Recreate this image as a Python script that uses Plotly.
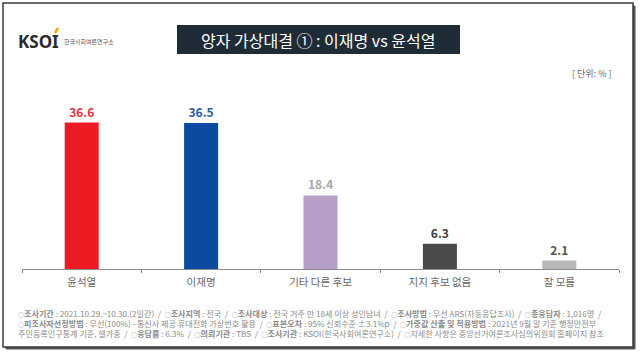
import plotly.graph_objects as go

categories = ["윤석열", "이재명", "기타 다른 후보", "지지 후보 없음", "잘 모름"]
values = [36.6, 36.5, 18.4, 6.3, 2.1]
bar_colors = ["#ED1C24", "#0B4AA0", "#B59FC8", "#4A4A4A", "#B8B8B8"]
label_colors = ["#E5323A", "#2A5AA8", "#A8A8A8", "#404040", "#555555"]
title_text = "양자 가상대결 ① : 이재명 vs 윤석열"
unit_text = "[ 단위: % ]"
BUL = "<span style='font-size:6px'>○</span>"
footnote_lines = [
    BUL + "<b>조사기간</b> : 2021.10.29.~10.30.(2일간)  /  " + BUL + "<b>조사지역</b> : 전국  /  " + BUL + "<b>조사대상</b> : 전국 거주 만 18세 이상 성인남녀  /  " + BUL + "<b>조사방법</b> : 무선 ARS(자동응답조사)  /  " + BUL + "<b>총응답자</b> : 1,016명  /",
    BUL + "<b>피조사자선정방법</b> : 무선(100%) –통신사 제공 휴대전화 가상번호 활용  /  " + BUL + "<b>표본오차</b> : 95% 신뢰수준 ±3.1%p  /  " + BUL + "<b>가중값 산출 및 적용방법</b> : 2021년 9월 말 기준 행정안전부",
    "주민등록인구통계 기준, 셀가중  /  " + BUL + "<b>응답률</b> : 6.3%  /  " + BUL + "<b>의뢰기관</b> : TBS  /  " + BUL + "<b>조사기관</b> : KSOI(한국사회여론연구소)  /  " + BUL + "자세한 사항은 중앙선거여론조사심의위원회 홈페이지 참조",
]

W, H = 640, 357
L, R, T, B = 22, 21, 100, 88
PW, PH = W - L - R, H - T - B
FONT = "Noto Sans CJK KR"


def px(x):
    return (x - L) / PW


def py(y):
    return (H - B - y) / PH


fig = go.Figure()
fig.add_trace(go.Bar(
    x=categories, y=values,
    marker=dict(color=bar_colors, line=dict(width=0)),
    width=0.285,
    text=[f"{v:.1f}" for v in values],
    textposition="outside",
    textfont=dict(family=FONT, size=12, color=label_colors, weight="bold"),
    cliponaxis=False,
    hoverinfo="skip",
))

shapes = [
    # outer frame shadow
    dict(type="rect", xref="paper", yref="paper", x0=px(6), x1=px(635), y0=py(6), y1=py(349),
         line=dict(color="#555555", width=1), fillcolor="#555555", layer="below"),
    dict(type="rect", xref="paper", yref="paper", x0=px(3), x1=px(633), y0=py(3), y1=py(347),
         line=dict(color="#3A3A3A", width=1.5), fillcolor="white", layer="below"),
    # title box
    dict(type="rect", xref="paper", yref="paper", x0=px(177), x1=px(460), y0=py(25), y1=py(54),
         line=dict(width=0), fillcolor="#1F2B35", layer="below"),
    # logo accent
    dict(type="line", xref="paper", yref="paper", x0=px(55), x1=px(58), y0=py(33), y1=py(28),
         line=dict(color="#F0A800", width=2.5)),
]

annotations = [
    dict(text=title_text, x=px(318), y=py(39.5), xref="paper", yref="paper", showarrow=False,
         font=dict(family=FONT, size=16, color="white"), xanchor="center", yanchor="middle"),
    dict(text="<b>KSOI</b>", x=px(16), y=py(41), xref="paper", yref="paper", showarrow=False,
         font=dict(family="Noto Sans", size=17, color="#2A2A2A"), xanchor="left", yanchor="middle"),
    dict(text="한국사회여론연구소", x=px(62), y=py(41.5), xref="paper", yref="paper", showarrow=False,
         font=dict(family=FONT, size=6, color="#555555"), xanchor="left", yanchor="middle"),
    dict(text=unit_text, x=px(613), y=py(73), xref="paper", yref="paper", showarrow=False,
         font=dict(family=FONT, size=9, color="#666666"), xanchor="right", yanchor="middle"),
]
for i, line in enumerate(footnote_lines):
    annotations.append(dict(text=line, x=px(16), y=py(313 + i * 10.3), xref="paper", yref="paper",
                            showarrow=False, xanchor="left", yanchor="middle",
                            font=dict(family=FONT, size=8.1, color="#8A8A8A")))

fig.update_layout(
    width=W, height=H,
    margin=dict(l=L, r=R, t=T, b=B, pad=0),
    paper_bgcolor="white", plot_bgcolor="rgba(0,0,0,0)",
    showlegend=False,
    shapes=shapes, annotations=annotations,
    font=dict(family=FONT),
    xaxis=dict(showline=True, linecolor="#8C8C8C", linewidth=1, ticks="outside",
               tickson="boundaries", ticklen=3, tickcolor="#8C8C8C",
               ticklabelstandoff=3,
               tickfont=dict(family=FONT, size=10.5, color="#666666"),
               showgrid=False, fixedrange=True),
    yaxis=dict(range=[0, 42.25], visible=False, showgrid=False, zeroline=False, fixedrange=True),
)

fig.write_html("out.html", config={"displayModeBar": False},
               post_script="document.body.style.margin='0px';")
